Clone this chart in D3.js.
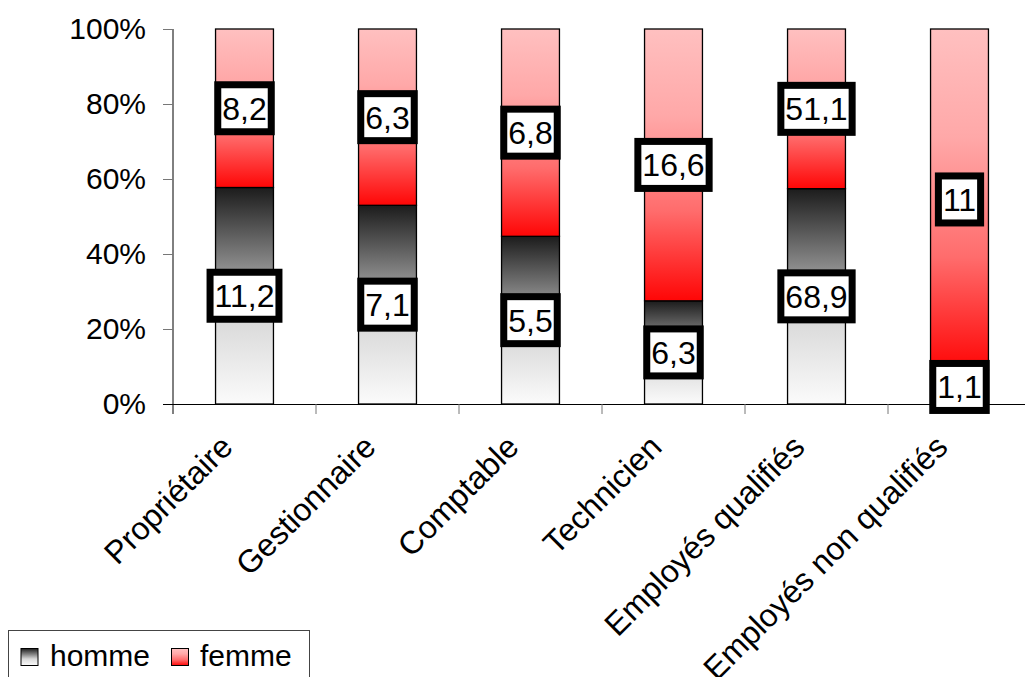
<!DOCTYPE html>
<html>
<head>
<meta charset="utf-8">
<script src="https://cdn.jsdelivr.net/npm/d3@7"></script>
<style>
  html, body { margin: 0; padding: 0; background: #fff; }
  svg { display: block; font-family: "Liberation Sans", Arial, sans-serif; }
</style>
</head>
<body>
<svg id="chart" width="1025" height="677"></svg>
<script>
// Effectifs par catégorie professionnelle et par sexe
const categories = ["Propriétaire", "Gestionnaire", "Comptable", "Technicien", "Employés qualifiés", "Employés non qualifiés"];
const homme = [11.2, 7.1, 5.5, 6.3, 68.9, 1.1];
const femme = [8.2, 6.3, 6.8, 16.6, 51.1, 11];
const seriesNames = ["homme", "femme"];
const yTicks = [0, 0.2, 0.4, 0.6, 0.8, 1];

const svg = d3.select("#chart");
const FONT = 30;
const LABEL_FONT = 32;

// Dégradés verticaux (appliqués à chaque segment)
const defs = svg.append("defs");
const gHomme = defs.append("linearGradient").attr("id", "grad-homme")
  .attr("x1", 0).attr("y1", 0).attr("x2", 0).attr("y2", 1);
[[0, "#1c1c1c"], [0.37, "#8c8c8c"], [0.62, "#dadada"], [1, "#fbfbfb"]]
  .forEach(([o, c]) => gHomme.append("stop").attr("offset", o).attr("stop-color", c));
const gFemme = defs.append("linearGradient").attr("id", "grad-femme")
  .attr("x1", 0).attr("y1", 0).attr("x2", 0).attr("y2", 1);
[[0, "#ffc0c0"], [0.32, "#ffa8a8"], [0.67, "#ff6c6c"], [1, "#ff0606"]]
  .forEach(([o, c]) => gFemme.append("stop").attr("offset", o).attr("stop-color", c));
const fills = { homme: "url(#grad-homme)", femme: "url(#grad-femme)" };

// Échelles
const x = d3.scaleBand().domain(categories).range([173, 1031])
  .paddingInner(0.595).paddingOuter(0.2975);
const y = d3.scaleLinear().domain([0, 1]).range([404, 29]);

// Données normalisées à 100 %
const rows = categories.map((c, i) => ({ cat: c, homme: homme[i], femme: femme[i] }));
const stacked = d3.stack().keys(seriesNames).offset(d3.stackOffsetExpand)(rows);

// Axe vertical
const yAxis = d3.axisLeft(y).tickValues(yTicks).tickFormat(d3.format(".0%"))
  .tickSize(10).tickSizeOuter(0).tickPadding(17);
const yg = svg.append("g").attr("transform", "translate(173,0)").call(yAxis);
yg.select(".domain").attr("stroke", "#000").attr("stroke-width", 1).attr("d", "M0,29V414");
yg.selectAll(".tick line").attr("stroke", "#777").attr("stroke-width", 1);
yg.selectAll(".tick text").attr("font-size", FONT)
  .attr("font-family", "Liberation Sans, Arial, sans-serif").attr("fill", "#000");

// Axe horizontal
svg.append("line").attr("x1", 163).attr("x2", 1025).attr("y1", 404.5).attr("y2", 404.5)
  .attr("stroke", "#000").attr("stroke-width", 1);
const bounds = d3.range(categories.length + 1).map(k => x.range()[0] + k * x.step());
svg.append("g").selectAll("line").data(bounds.slice(1)).join("line")
  .attr("x1", d => d).attr("x2", d => d).attr("y1", 404).attr("y2", 414)
  .attr("stroke", "#777").attr("stroke-width", 1);

// Barres empilées
const barG = svg.append("g");
stacked.forEach(layer => {
  barG.append("g").selectAll("rect").data(layer).join("rect")
    .attr("x", d => x(d.data.cat))
    .attr("width", x.bandwidth())
    .attr("y", d => y(d[1]))
    .attr("height", d => y(d[0]) - y(d[1]))
    .attr("fill", fills[layer.key])
    .attr("stroke", "#000").attr("stroke-width", 1.3);
});

// Étiquettes de valeurs encadrées
const fmtVal = v => String(v).replace(".", ",");
const labG = svg.append("g");
stacked.forEach(layer => {
  layer.forEach(d => {
    const cx = x(d.data.cat) + x.bandwidth() / 2;
    const cy = y((d[0] + d[1]) / 2);
    const g = labG.append("g");
    const t = g.append("text").attr("x", cx).attr("y", cy + 11.5)
      .attr("text-anchor", "middle")
      .attr("font-size", LABEL_FONT).attr("fill", "#000")
      .text(fmtVal(d.data[layer.key]));
    const tw = t.node().getComputedTextLength();
    g.insert("rect", "text")
      .attr("x", cx - (tw + 9) / 2).attr("y", cy - 23.5)
      .attr("width", tw + 9).attr("height", 47)
      .attr("fill", "#fff").attr("stroke", "#000").attr("stroke-width", 7);
  });
});

// Libellés des catégories (inclinés à 45°)
svg.append("g").selectAll("text").data(categories).join("text")
  .attr("transform", d => `translate(${x(d) + x.bandwidth() / 2 - 10},449) rotate(-45)`)
  .attr("text-anchor", "end")
  .attr("font-size", LABEL_FONT).attr("fill", "#000")
  .text(d => d);

// Légende
const leg = svg.append("g");
leg.append("rect").attr("x", 8.5).attr("y", 630.5).attr("width", 301).attr("height", 60)
  .attr("fill", "#fff").attr("stroke", "#444").attr("stroke-width", 1);
const legItems = [{ key: "homme", sx: 21, tx: 50 }, { key: "femme", sx: 171.5, tx: 200 }];
legItems.forEach(it => {
  leg.append("rect").attr("x", it.sx).attr("y", 648.5).attr("width", 17).attr("height", 17)
    .attr("fill", fills[it.key]).attr("stroke", "#000").attr("stroke-width", 1);
  leg.append("text").attr("x", it.tx).attr("y", 666)
    .attr("font-size", FONT).attr("fill", "#000").text(it.key);
});
</script>
</body>
</html>
